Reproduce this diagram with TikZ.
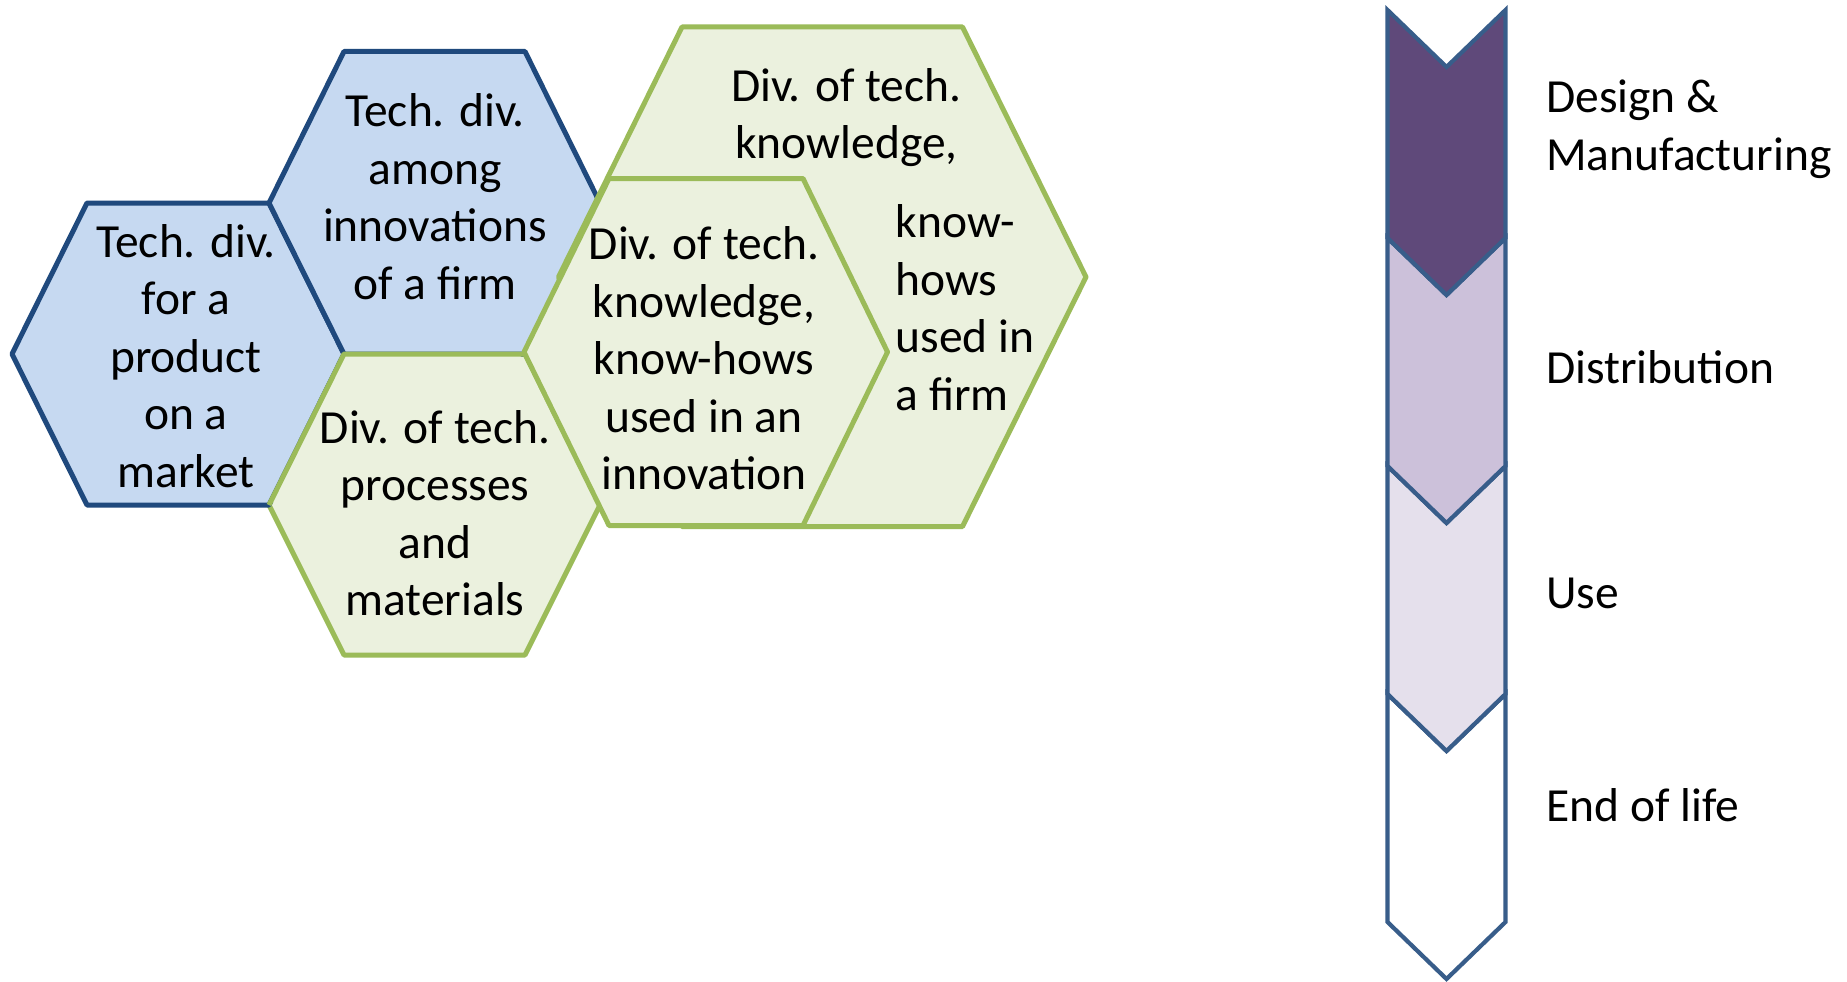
\documentclass[tikz,border=0pt]{standalone}
\usepackage{fontspec}
\setmainfont{Carlito}
\definecolor{bluefill}{HTML}{C6D9F1}
\definecolor{blueline}{HTML}{1F497D}
\definecolor{greenfill}{HTML}{EBF1DE}
\definecolor{greenline}{HTML}{9BBB59}
\definecolor{chevline}{HTML}{385D8A}
\definecolor{chevA}{HTML}{5F497A}
\definecolor{chevB}{HTML}{CCC1DA}
\definecolor{chevC}{HTML}{E5E0EC}
\begin{document}
\begin{tikzpicture}[x=1pt,y=-1pt,
  bluehex/.style={draw=blueline,fill=bluefill,line width=5pt,line join=round},
  greenhex/.style={draw=greenline,fill=greenfill,line width=5pt,line join=round},
  chev/.style={draw=chevline,line width=4.2pt,line join=miter},
  hextext/.style={inner sep=0pt,font=\fontsize{47.5}{57.5}\selectfont,align=center,anchor=base},
  sidetext/.style={inner sep=0pt,font=\fontsize{47.5}{58}\selectfont,align=left,anchor=base west}]
\useasboundingbox (0,0) rectangle (1847,982);
\fill[white] (0,0) rectangle (1847,982);

% hexagons
\path[greenhex] (269,505) -- (344,354) -- (525,354) -- (600,505) -- (525,655) -- (344,655) -- cycle;
\path[bluehex] (12,354) -- (87,203) -- (269,203) -- (344,354) -- (269,505) -- (87,505) -- cycle;
\path[bluehex] (269,203) -- (344,51.5) -- (525,51.5) -- (600,203) -- (525,354) -- (344,354) -- cycle;
\path[greenhex] (269,505) -- (344,354) -- (525,354);
\path[greenhex] (558.5,277) -- (682,27) -- (962.5,27) -- (1086,277) -- (962.5,526.5) -- (682,526.5) -- cycle;
\path[greenhex] (524,352) -- (609,178.5) -- (803,178.5) -- (887.5,352) -- (803,525.5) -- (609,525.5) -- cycle;

\node[hextext] (hA) at (186,487) {Tech. div.\\for a\\product\\on a\\market};
\node[hextext] (hB) at (435,299.4) {Tech. div.\\among\\innovations\\of a firm};
\node[hextext] (hC) at (435,615.8) {Div. of tech.\\processes\\and\\materials};
\node[hextext] (hD) at (704,489.8) {Div. of tech.\\knowledge,\\know-hows\\used in an\\innovation};
\node[hextext] (hE) at (846.4,158.9) {Div. of tech.\\knowledge,};
\node[sidetext,font=\fontsize{47.5}{57.7}\selectfont] (hE2) at (895.4,410.6) {know-\\hows\\used in\\a firm};

% chevrons
\foreach \t/\c in {694/white,466/chevC,238/chevB,10/chevA}{
  \path[chev,fill=\c] (1387.5,\t) -- (1446.5,\t+57) -- (1505.5,\t) -- (1505.5,\t+228)
    -- (1446.5,\t+285) -- (1387.5,\t+228) -- cycle;
}

\node[sidetext] (l1) at (1546,170) {Design \&\\Manufacturing};
\node[sidetext] (l2) at (1546,383.3) {Distribution};
\node[sidetext] (l3) at (1546,608.3) {Use};
\node[sidetext] (l4) at (1546,821.7) {End of life};
\end{tikzpicture}
\end{document}
